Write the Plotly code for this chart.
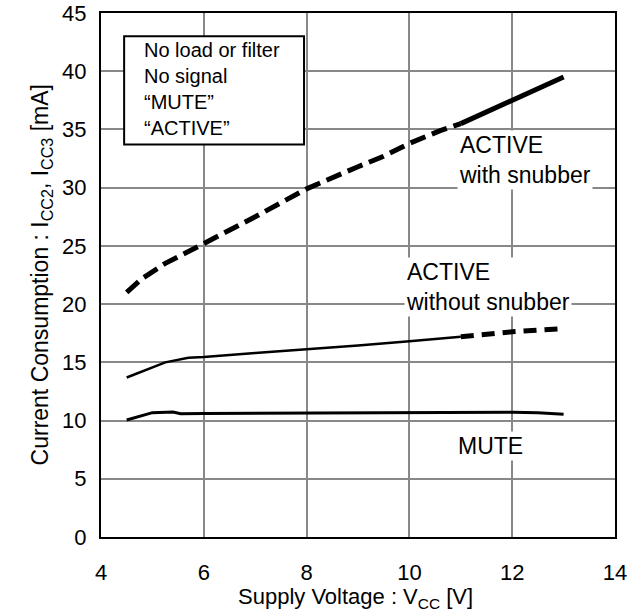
import plotly.graph_objects as go

# Supply voltage (V) vs current consumption (mA)
snub_dash_x = [4.5, 4.8, 5.25, 5.75, 6.0, 7.0, 8.0, 9.0, 9.5, 10.0, 10.6, 11.0]
snub_dash_y = [21.0, 22.2, 23.5, 24.6, 25.2, 27.5, 29.9, 31.8, 32.7, 33.8, 34.9, 35.5]
snub_solid_x = [11.0, 12.0, 13.0]
snub_solid_y = [35.5, 37.5, 39.5]

nosnub_solid_x = [4.5, 5.25, 5.7, 6.0, 7.0, 8.0, 9.0, 10.0, 11.0]
nosnub_solid_y = [13.7, 15.0, 15.4, 15.45, 15.8, 16.1, 16.45, 16.8, 17.2]
nosnub_dash_x = [11.0, 12.0, 13.0]
nosnub_dash_y = [17.2, 17.62, 17.9]

mute_x = [4.5, 5.0, 5.4, 5.55, 6.0, 8.0, 10.0, 12.0, 12.5, 13.0]
mute_y = [10.05, 10.68, 10.74, 10.58, 10.6, 10.65, 10.7, 10.72, 10.68, 10.55]

x_ticks = [4, 6, 8, 10, 12, 14]
y_ticks = [0, 5, 10, 15, 20, 25, 30, 35, 40, 45]

FONT = "Arial, Liberation Sans, sans-serif"

fig = go.Figure()

# ACTIVE with snubber
fig.add_trace(go.Scatter(x=snub_dash_x, y=snub_dash_y, mode="lines",
                         line=dict(color="black", width=5, dash="16px,7px")))
fig.add_trace(go.Scatter(x=snub_solid_x, y=snub_solid_y, mode="lines",
                         line=dict(color="black", width=5)))
# ACTIVE without snubber
fig.add_trace(go.Scatter(x=nosnub_solid_x, y=nosnub_solid_y, mode="lines",
                         line=dict(color="black", width=2.5)))
fig.add_trace(go.Scatter(x=nosnub_dash_x, y=nosnub_dash_y, mode="lines",
                         line=dict(color="black", width=5, dash="13px,8px")))
# MUTE
fig.add_trace(go.Scatter(x=mute_x, y=mute_y, mode="lines",
                         line=dict(color="black", width=3)))

# condition box
fig.add_shape(type="rect", x0=4.45, x1=7.95, y0=33.7, y1=43.0,
              line=dict(color="black", width=2), fillcolor="white", layer="above")
fig.add_annotation(x=4.79, y=38.5, xanchor="left", yanchor="middle", align="left",
                   showarrow=False, font=dict(size=20),
                   text="No load or filter<br>No signal<br>\u201cMUTE\u201d<br>\u201cACTIVE\u201d")

# curve labels
fig.add_annotation(x=10.93, y=32.4, xanchor="left", yanchor="middle", align="left",
                   showarrow=False, bgcolor="white", font=dict(size=23),
                   text="ACTIVE<br>with snubber")
fig.add_annotation(x=9.9, y=21.5, xanchor="left", yanchor="middle", align="left",
                   showarrow=False, bgcolor="white", font=dict(size=23),
                   text="ACTIVE<br>without snubber")
fig.add_annotation(x=11.57, y=7.8, xanchor="center", yanchor="middle",
                   showarrow=False, bgcolor="white", font=dict(size=23),
                   text="MUTE")

# axis titles
fig.add_annotation(xref="paper", yref="paper", x=-0.148, y=0.5, textangle=-90,
                   showarrow=False, font=dict(size=23),
                   text="Current Consumption : I<sub>CC2</sub>, I<sub>CC3</sub> [mA]")
fig.add_annotation(xref="paper", yref="paper", x=0.495, y=-0.117, yanchor="middle",
                   showarrow=False, font=dict(size=22),
                   text="Supply Voltage : V<sub>CC</sub> [V]")

fig.update_xaxes(range=[4, 14], tickvals=x_ticks, showgrid=True, gridcolor="#888888",
                 gridwidth=2, showline=True, linecolor="black", linewidth=2, mirror=True,
                 zeroline=False, ticks="", ticklabelstandoff=15, automargin=False,
                 tickfont=dict(size=22, color="black"))
fig.update_yaxes(range=[0, 45], tickvals=y_ticks, showgrid=True, gridcolor="#888888",
                 gridwidth=2, showline=True, linecolor="black", linewidth=2, mirror=True,
                 zeroline=False, ticks="", ticklabelstandoff=8, automargin=False,
                 tickfont=dict(size=22, color="black"))

fig.update_layout(
    width=643, height=615,
    margin=dict(l=101, r=28, t=13, b=78),
    plot_bgcolor="white", paper_bgcolor="white",
    showlegend=False,
    font=dict(family=FONT, color="black"),
)

# page body has a default 8px margin; drop it so the figure fills the window
fig.write_html("out.html", config={"displayModeBar": False},
               post_script="document.body.style.margin='0';")
